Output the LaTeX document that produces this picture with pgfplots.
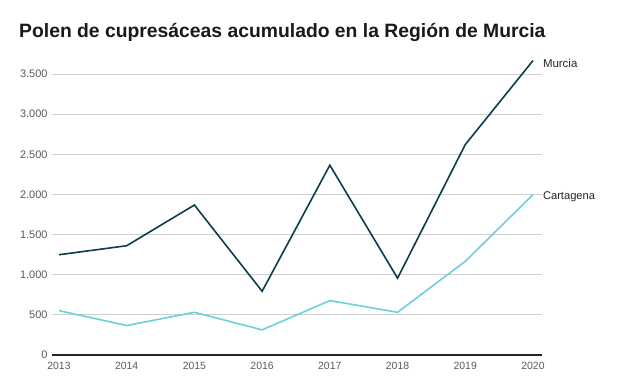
\documentclass[border=0pt]{standalone}
\usepackage{pgfplots}
\pgfplotsset{compat=1.18}
\usepackage{fontspec}
\setmainfont{Liberation Sans}
\definecolor{murcia}{HTML}{0B3D4A}
\definecolor{carta}{HTML}{6CCFDC}
\definecolor{gridc}{HTML}{D0D0D0}
\definecolor{tickc}{HTML}{5A5A5A}
\begin{document}
\begin{tikzpicture}[x=1bp,y=1bp]
\path[use as bounding box] (0,0) rectangle (624,385);
\node[anchor=west,font=\fontsize{19.4}{22}\selectfont\bfseries,text=black!90,inner sep=0pt] at (19,353) {Polen de cupresáceas acumulado en la Región de Murcia};
\begin{axis}[
  at={(52bp,30bp)}, anchor=south west,
  scale only axis, width=490bp, height=281bp,
  xmin=2012.897, xmax=2020.133,
  ymin=0, ymax=3500,
  clip=false,
  axis line style={draw=none},
  axis x line*=bottom,
  xtick={2013,...,2020},
  ytick={0,500,...,3500},
  xticklabel style={/pgf/number format/1000 sep={}, font=\fontsize{10.5}{12}\selectfont, text=tickc},
  yticklabel style={font=\fontsize{11}{12}\selectfont, text=tickc},
  /pgf/number format/assume math mode=true,
  /pgf/number format/1000 sep={.},
  scaled y ticks=false,
  major tick length=0pt,
  ymajorgrids, grid style={gridc, line width=0.9bp},
  xticklabel shift=4bp,
  yticklabel shift=1bp,
]
\addplot[murcia, line width=1.6bp] coordinates {
(2013,1249) (2014,1361) (2015,1868) (2016,794) (2017,2364) (2018,957) (2019,2621) (2020,3667)};
\addplot[carta, line width=1.6bp] coordinates {
(2013,553) (2014,367) (2015,532) (2016,313) (2017,678) (2018,532) (2019,1167) (2020,1997)};
\draw[black!85, line width=1.3bp] (axis cs:2012.897,0) -- (axis cs:2020.133,0);
\node[anchor=west, font=\fontsize{11.5}{13}\selectfont, text=black!85, inner sep=1bp] at (axis cs:2020.13,3630) {Murcia};
\node[anchor=west, font=\fontsize{11.2}{13}\selectfont, text=black!85, inner sep=1bp] at (axis cs:2020.13,1970) {Cartagena};
\end{axis}
\end{tikzpicture}
\end{document}
